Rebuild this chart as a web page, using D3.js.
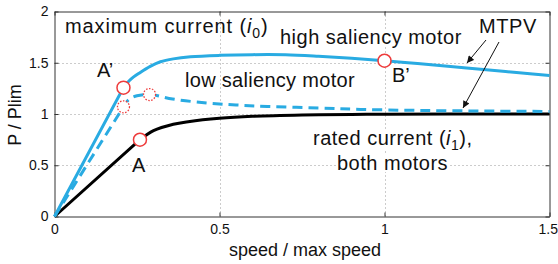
<!DOCTYPE html>
<html><head><meta charset="utf-8">
<script src="https://cdn.jsdelivr.net/npm/d3@7"></script>
<style>body{margin:0;background:#fff}svg{display:block;font-family:"Liberation Sans",Arial,sans-serif}</style>
</head><body><svg id="c" width="558" height="264"></svg>
<script>
// Data
const speedHigh = [0, 0.209, 0.23, 0.26, 0.29, 0.321, 0.36, 0.412, 0.5, 0.6, 0.7, 0.8, 0.9, 1.0, 1.1, 1.2, 1.3, 1.4, 1.5];
const powerHigh = [0, 1.257, 1.335, 1.405, 1.465, 1.51, 1.538, 1.558, 1.572, 1.579, 1.578, 1.563, 1.543, 1.52, 1.492, 1.463, 1.433, 1.404, 1.375];
const speedLow = [0, 0.209, 0.225, 0.25, 0.29, 0.358, 0.463, 0.55, 0.645, 0.8, 0.927, 1.1, 1.3, 1.5];
const powerLow = [0, 1.07, 1.14, 1.178, 1.19, 1.146, 1.107, 1.088, 1.074, 1.058, 1.045, 1.035, 1.029, 1.025];
const speedRated = [0, 0.259, 0.3, 0.36, 0.405, 0.5, 0.6, 0.75, 0.9, 1.0, 1.2, 1.5];
const powerRated = [0, 0.749, 0.838, 0.9, 0.925, 0.958, 0.977, 0.99, 0.996, 0.998, 1.0, 1.0];
const pointsSolid = [{x:0.209,y:1.257},{x:1.0,y:1.52},{x:0.259,y:0.749}];
const pointsDotted = [{x:0.209,y:1.07},{x:0.288,y:1.19}];
const xTicks = [0, 0.5, 1, 1.5];
const yTicks = [0, 0.5, 1, 1.5, 2];
const xGrid = [0.5, 1];
const yGrid = [0.5, 1, 1.5];

const svg = d3.select("#c");
const L=54.5, R=549.5, T=11.5, B=216.5;
const x = d3.scaleLinear().domain([0,1.5]).range([L,R]);
const y = d3.scaleLinear().domain([0,2]).range([B,T]);
const blue="#29abe2", red="#ee3b3b";

// grid
svg.append("g").selectAll("line").data(yGrid).join("line")
  .attr("x1",L).attr("x2",R).attr("y1",d=>Math.round(y(d))+0.5).attr("y2",d=>Math.round(y(d))+0.5)
  .attr("stroke","#999").attr("stroke-width",1).attr("stroke-dasharray","1,3");
svg.append("g").selectAll("line").data(xGrid).join("line")
  .attr("y1",T).attr("y2",B).attr("x1",d=>Math.round(x(d))+0.5).attr("x2",d=>Math.round(x(d))+0.5)
  .attr("stroke","#999").attr("stroke-width",1).attr("stroke-dasharray","1,3");

// axes
const ax = (g)=>g.attr("font-size",14).attr("font-family","Liberation Sans, Arial, sans-serif");
svg.append("g").attr("transform",`translate(0,${B})`).call(d3.axisBottom(x).tickValues(xTicks).tickFormat(d3.format("")).tickSizeInner(-4).tickSizeOuter(0).tickPadding(8))
  .call(ax).call(g=>g.select(".domain").attr("stroke","#333")).call(g=>g.selectAll("text").attr("fill","#111"))
  .call(g=>g.selectAll("text").filter(d=>d===1.5).attr("text-anchor","end").attr("dx","8"));
svg.append("g").attr("transform",`translate(${L},0)`).call(d3.axisLeft(y).tickValues(yTicks).tickFormat(d3.format("")).tickSizeInner(-4).tickSizeOuter(0).tickPadding(6))
  .call(ax).call(g=>g.select(".domain").attr("stroke","#333")).call(g=>g.selectAll("text").attr("fill","#111"));
svg.append("g").attr("transform",`translate(0,${T})`).call(d3.axisTop(x).tickValues(xTicks).tickFormat("").tickSizeInner(-4).tickSizeOuter(0))
  .call(g=>g.select(".domain").attr("stroke","#333"));
svg.append("g").attr("transform",`translate(${R},0)`).call(d3.axisRight(y).tickValues(yTicks).tickFormat("").tickSizeInner(-4).tickSizeOuter(0))
  .call(g=>g.select(".domain").attr("stroke","#333"));
svg.selectAll(".tick line").attr("stroke","#333");

// labels
function label(tx,ty,str,opts={}){
  const t = svg.append("text").attr("x",tx).attr("y",ty).attr("font-size",opts.size||20).attr("fill","#111")
    .attr("letter-spacing",opts.ls!=null?opts.ls:0.5).attr("text-anchor",opts.anchor||"start");
  if(Array.isArray(str)){
    str.forEach(s=>{const ts=t.append("tspan").text(s.t); if(s.i) ts.attr("font-style","italic"); if(s.sub) ts.attr("font-size",14).attr("dy",5); if(s.up) ts.attr("dy",-5);});
  } else t.text(str);
  if(opts.bg){const bb=t.node().getBBox(); svg.insert("rect",()=>t.node()).attr("x",bb.x).attr("y",bb.y+3).attr("width",bb.width).attr("height",bb.height-5).attr("fill","#fff");}
  return t;
}

// curves
const lin = d3.line().x(d=>x(d[0])).y(d=>y(d[1]));
const crv = d3.line().x(d=>x(d[0])).y(d=>y(d[1])).curve(d3.curveCatmullRom.alpha(0.5));
function drawSeries(xs,ys,kinkIdx,style){
  const pts=d3.zip(xs,ys);
  const g=svg.append("g").attr("fill","none");
  const d = lin(pts.slice(0,kinkIdx+1)) + crv(pts.slice(kinkIdx)).replace(/^M[^C]*?(?=C)/,"");
  const p=g.append("path").attr("d",d);
  for(const k in style) p.attr(k,style[k]);
}
drawSeries(speedRated,powerRated,1,{stroke:"#000","stroke-width":3});
drawSeries(speedLow,powerLow,1,{stroke:blue,"stroke-width":3,"stroke-dasharray":"10,6"});
drawSeries(speedHigh,powerHigh,1,{stroke:blue,"stroke-width":3});

// markers
svg.append("g").selectAll("circle").data(pointsDotted).join("circle")
  .attr("cx",d=>x(d.x)).attr("cy",d=>y(d.y)).attr("r",6).attr("fill","#fff").attr("stroke",red).attr("stroke-width",1.3).attr("stroke-dasharray","1.5,1.5");
svg.append("g").selectAll("circle").data(pointsSolid).join("circle")
  .attr("cx",d=>x(d.x)).attr("cy",d=>y(d.y)).attr("r",6.5).attr("fill","#fff").attr("stroke",red).attr("stroke-width",1.5);

// text labels
label(65,33,[{t:"maximum current ("},{t:"i",i:true},{t:"0",sub:true},{t:")",up:true}],{ls:0.9});
label(280,44,"high saliency motor",{bg:true,ls:0.5});
label(185,87,"low saliency motor",{ls:0.3});
label(97,77,"A’",{ls:0});
label(392,82,"B’",{bg:true,ls:0});
label(132,172,"A",{ls:0});
label(479,33,"MTPV",{ls:0.6});
label(313,145,[{t:"rated current ("},{t:"i",i:true},{t:"1",sub:true},{t:"),",up:true}],{bg:true,ls:0.5});
label(337,170,"both motors",{bg:true,ls:0.5});

// arrows
const defs=svg.append("defs");
defs.append("marker").attr("id","ah").attr("viewBox","0 0 10 10").attr("refX",10).attr("refY",5)
  .attr("markerWidth",9).attr("markerHeight",7).attr("markerUnits","userSpaceOnUse").attr("orient","auto")
  .append("path").attr("d","M0,0L10,5L0,10z").attr("fill","#111");
svg.append("line").attr("x1",486).attr("y1",40).attr("x2",467).attr("y2",63).attr("stroke","#111").attr("stroke-width",1).attr("marker-end","url(#ah)");
svg.append("line").attr("x1",499).attr("y1",42).attr("x2",463).attr("y2",108).attr("stroke","#111").attr("stroke-width",1).attr("marker-end","url(#ah)");

// axis titles
svg.append("text").attr("x",305).attr("y",256).attr("text-anchor","middle").attr("font-size",18).attr("fill","#111").text("speed / max speed");
svg.append("text").attr("transform","translate(21,115) rotate(-90)").attr("text-anchor","middle").attr("font-size",18).attr("fill","#111").text("P / Plim");
</script></body></html>
